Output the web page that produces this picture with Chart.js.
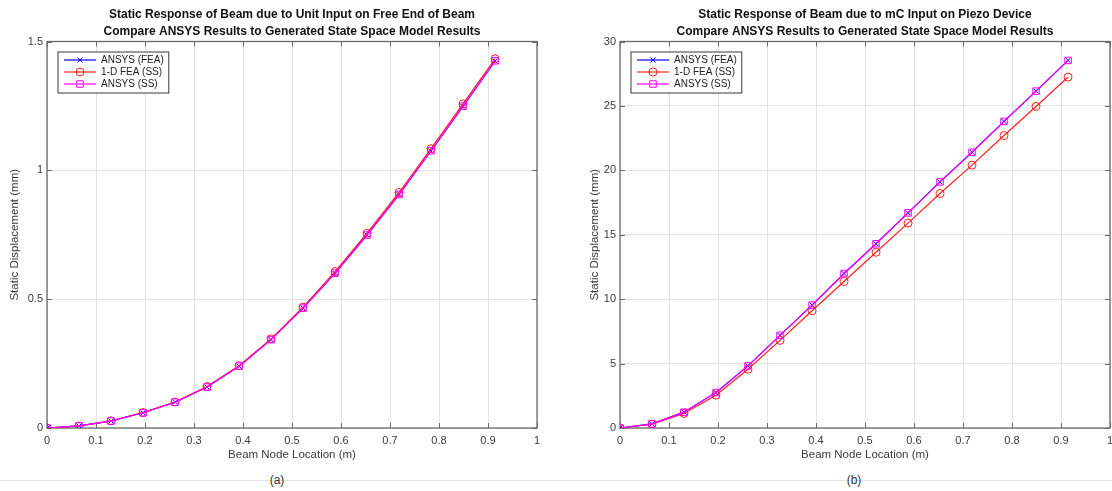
<!DOCTYPE html>
<html>
<head>
<meta charset="utf-8">
<title>Static Response of Beam</title>
<script src="https://cdn.jsdelivr.net/npm/chart.js@4.4.1/dist/chart.umd.min.js"></script>
<style>
  html, body { margin: 0; padding: 0; background: #fff; }
  body { width: 1112px; height: 491px; position: relative; overflow: hidden; font-family: "Liberation Sans", Arial, sans-serif; }
  canvas { position: absolute; top: 0; }
  #chartA { left: 0; }
  #chartB { left: 556px; }
  .rule { position: absolute; left: 0; top: 480px; width: 1112px; height: 1px; background: #e2e2e2; }
  .caption { position: absolute; top: 473px; width: 40px; margin-left: -20px; text-align: center; font-size: 12px; color: #333; }
</style>
</head>
<body>
<canvas id="chartA" width="556" height="470"></canvas>
<canvas id="chartB" width="570" height="470"></canvas>
<div class="rule"></div>
<div class="caption" style="left:277px">(a)</div>
<div class="caption" style="left:854px">(b)</div>

<script>
// beam node positions (m), 14 elements over a 0.9144 m beam
const nodeLocation = [0, 0.0653, 0.1306, 0.1959, 0.2612, 0.3266, 0.3919, 0.4572,
                      0.5225, 0.5878, 0.6531, 0.7184, 0.7837, 0.8490, 0.9144];

const seriesNames = ['ANSYS (FEA)', '1-D FEA (SS)', 'ANSYS (SS)'];

// (a) unit input on free end, displacement in mm
const tipAnsysFea = [0, 0.008, 0.027, 0.059, 0.100, 0.159, 0.240, 0.343, 0.465, 0.600, 0.749, 0.906, 1.075, 1.248, 1.424];
const tipFeaSS    = [0, 0.008, 0.028, 0.060, 0.101, 0.161, 0.242, 0.346, 0.469, 0.607, 0.756, 0.914, 1.084, 1.258, 1.433];
const tipAnsysSS  = [0, 0.008, 0.027, 0.059, 0.100, 0.159, 0.240, 0.343, 0.465, 0.601, 0.749, 0.906, 1.076, 1.249, 1.425];

// (b) mC input on piezo device, displacement in mm
const piezoAnsysFea = [0, 0.32, 1.23, 2.75, 4.82, 7.19, 9.54, 11.99, 14.30, 16.70, 19.10, 21.40, 23.80, 26.15, 28.53];
const piezoFeaSS    = [0, 0.30, 1.13, 2.55, 4.56, 6.80, 9.10, 11.37, 13.64, 15.90, 18.20, 20.40, 22.70, 24.96, 27.24];
const piezoAnsysSS  = [0, 0.32, 1.23, 2.75, 4.82, 7.19, 9.54, 11.99, 14.30, 16.70, 19.10, 21.40, 23.80, 26.15, 28.53];

const xTicks = { min: 0, max: 1, step: 0.1 };
const yTicksA = { min: 0, max: 1.5, step: 0.5 };
const yTicksB = { min: 0, max: 30, step: 5 };

const FONT = '"Liberation Sans", Arial, sans-serif';
const TEXT = '#3a3a3a';
const AXIS = '#6a6a6a';

const styles = [
  { color: '#0000ff', pointStyle: 'crossRot', radius: 3.6, order: 3 },
  { color: '#ff2020', pointStyle: 'circle',   radius: 4,   order: 2 },
  { color: '#ff00ff', pointStyle: 'rect',     radius: 4.6, order: 1 }
];

function toPoints(values) {
  return values.map((v, i) => ({ x: nodeLocation[i], y: v }));
}

// plain tick text: 0, 0.1, ... 1 (no trailing zeros)
function tickText(value) {
  return String(+value.toFixed(2));
}

function drawMarker(ctx, style, x, y) {
  const r = style.radius;
  ctx.beginPath();
  if (style.pointStyle === 'circle') {
    ctx.arc(x, y, r, 0, Math.PI * 2);
  } else if (style.pointStyle === 'rect') {
    const s = r / Math.SQRT2;
    ctx.rect(x - s, y - s, 2 * s, 2 * s);
  } else {
    const o = r * Math.cos(Math.PI / 4);
    ctx.moveTo(x - o, y - o); ctx.lineTo(x + o, y + o);
    ctx.moveTo(x - o, y + o); ctx.lineTo(x + o, y - o);
  }
  ctx.stroke();
}

// axes box with inward tick marks on all four sides
const framePlugin = {
  id: 'frame',
  beforeDatasetsDraw(chart) {
    const { ctx, chartArea: a, scales: { x, y } } = chart;
    ctx.save();
    ctx.strokeStyle = AXIS;
    ctx.lineWidth = 1;
    ctx.beginPath();
    x.ticks.forEach(t => {
      const px = Math.round(x.getPixelForValue(t.value)) + 0.5;
      ctx.moveTo(px, a.bottom); ctx.lineTo(px, a.bottom - 5);
      ctx.moveTo(px, a.top); ctx.lineTo(px, a.top + 5);
    });
    y.ticks.forEach(t => {
      const py = Math.round(y.getPixelForValue(t.value)) + 0.5;
      ctx.moveTo(a.left, py); ctx.lineTo(a.left + 5, py);
      ctx.moveTo(a.right, py); ctx.lineTo(a.right - 5, py);
    });
    ctx.stroke();
    ctx.lineWidth = 1.3;
    ctx.strokeRect(a.left, a.top, a.right - a.left, a.bottom - a.top);
    ctx.restore();
  }
};

// legend box in the upper left corner of the axes
const boxLegendPlugin = {
  id: 'boxLegend',
  afterDraw(chart) {
    const { ctx, chartArea: a } = chart;
    ctx.save();
    ctx.font = '10px ' + FONT;
    const textW = Math.max(...seriesNames.map(n => ctx.measureText(n).width));
    const bx = a.left + 11, by = a.top + 10.5;
    const bw = 43 + textW + 5, bh = 41;
    ctx.fillStyle = '#fff';
    ctx.fillRect(bx, by, bw, bh);
    ctx.strokeStyle = '#3a3a3a';
    ctx.lineWidth = 1;
    ctx.strokeRect(bx, by, bw, bh);
    seriesNames.forEach((name, i) => {
      const st = styles[i];
      const ry = by + 8 + i * 12;
      ctx.strokeStyle = st.color;
      ctx.lineWidth = 1.2;
      ctx.beginPath();
      ctx.moveTo(bx + 6, ry); ctx.lineTo(bx + 38, ry);
      ctx.stroke();
      ctx.lineWidth = 1;
      drawMarker(ctx, st, bx + 22, ry);
      ctx.fillStyle = '#222';
      ctx.textBaseline = 'middle';
      ctx.fillText(name, bx + 43, ry + 0.5);
    });
    ctx.restore();
  }
};

function makeChart(canvasId, title, series, yTicks, yAxisWidth, yTitlePad) {
  const ctx = document.getElementById(canvasId).getContext('2d');
  return new Chart(ctx, {
    type: 'scatter',
    data: {
      datasets: series.map((values, i) => ({
        label: seriesNames[i],
        data: toPoints(values),
        showLine: true,
        borderColor: styles[i].color,
        backgroundColor: 'rgba(0,0,0,0)',
        borderWidth: 1.2,
        pointStyle: styles[i].pointStyle,
        pointRadius: styles[i].radius,
        pointBorderWidth: 1,
        pointBorderColor: styles[i].color,
        pointBackgroundColor: 'rgba(0,0,0,0)',
        order: styles[i].order
      }))
    },
    options: {
      responsive: false,
      animation: false,
      layout: { padding: { left: 0, right: canvasId === 'chartA' ? 19 : 16, top: 0, bottom: 0 } },
      plugins: {
        legend: { display: false },
        tooltip: { enabled: false },
        title: {
          display: true,
          fullSize: false,
          text: title,
          color: '#111',
          font: { family: FONT, size: 12, weight: 'bold', lineHeight: 1.35 },
          padding: { top: 7, bottom: 2.1 }
        }
      },
      scales: {
        x: {
          type: 'linear',
          min: xTicks.min,
          max: xTicks.max,
          afterFit: scale => { scale.height = 42; },
          ticks: { stepSize: xTicks.step, padding: 6, color: TEXT, font: { family: FONT, size: 11 }, callback: tickText },
          grid: { color: '#e3e3e3', drawTicks: false },
          border: { display: false },
          title: {
            display: true,
            text: 'Beam Node Location (m)',
            color: TEXT,
            font: { family: FONT, size: 11.5 },
            padding: { top: 0, bottom: 8.2 }
          }
        },
        y: {
          type: 'linear',
          min: yTicks.min,
          max: yTicks.max,
          afterFit: scale => { scale.width = yAxisWidth; },
          ticks: { stepSize: yTicks.step, padding: 4, color: TEXT, font: { family: FONT, size: 11 }, callback: tickText },
          grid: { color: '#e3e3e3', drawTicks: false },
          border: { display: false },
          title: {
            display: true,
            text: 'Static Displacement (mm)',
            color: TEXT,
            font: { family: FONT, size: 11.5 },
            padding: { top: yTitlePad, bottom: 0 }
          }
        }
      }
    },
    plugins: [framePlugin, boxLegendPlugin]
  });
}

window.addEventListener('load', () => {
  makeChart('chartA',
    ['Static Response of Beam due to Unit Input on Free End of Beam',
     'Compare ANSYS Results to Generated State Space Model Results'],
    [tipAnsysFea, tipFeaSS, tipAnsysSS], yTicksA, 47, 8.2);
  makeChart('chartB',
    ['Static Response of Beam due to mC Input on Piezo Device',
     'Compare ANSYS Results to Generated State Space Model Results'],
    [piezoAnsysFea, piezoFeaSS, piezoAnsysSS], yTicksB, 64, 32.2);
});
</script>
</body>
</html>
